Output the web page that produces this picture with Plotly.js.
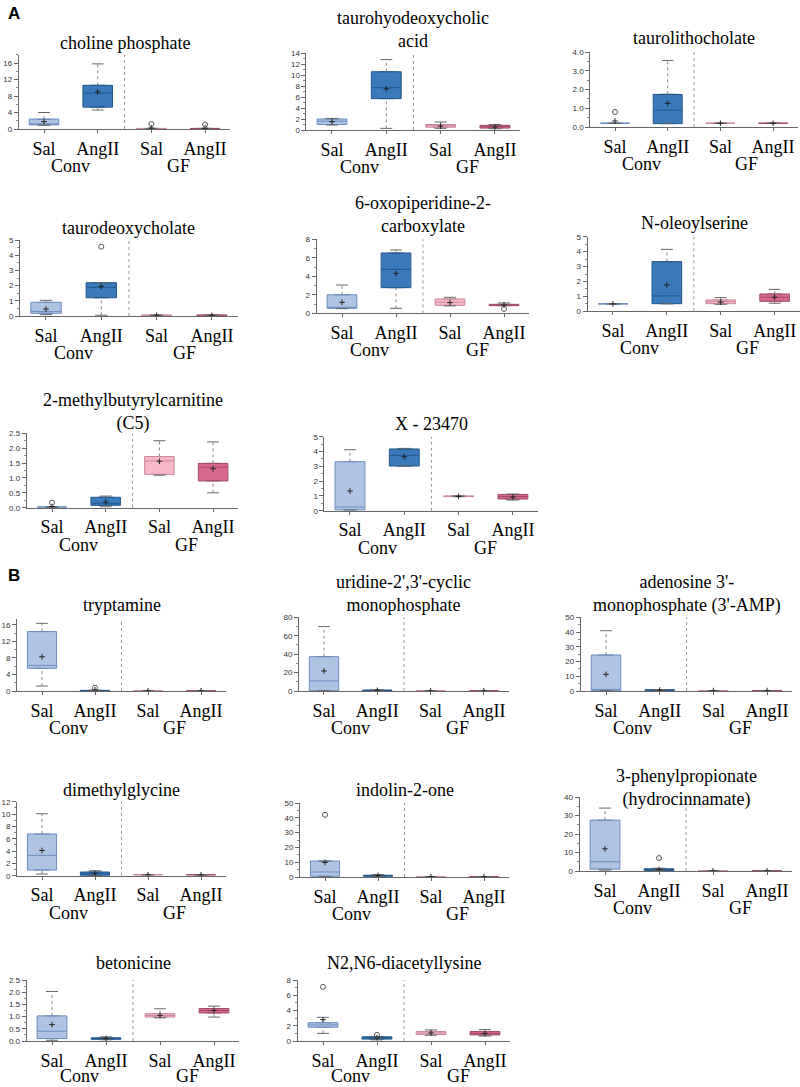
<!DOCTYPE html>
<html><head><meta charset="utf-8">
<script src="https://cdn.plot.ly/plotly-3.0.1.min.js"></script>
<style>html,body{margin:0;padding:0;background:#fff}#chart{width:800px;height:1087px}</style>
</head><body><div id="chart"></div>
<script>
// ---------- DATA ----------
const groupLabels = ['Sal', 'AngII', 'Sal', 'AngII'];
const cohortLabels = ['Conv', 'GF'];
const cohortPositions = [0.5, 2.5];
const sectionLabels = ['A', 'B'];
const titles = [
  'choline phosphate', 'taurohyodeoxycholic<br>acid', 'taurolithocholate',
  'taurodeoxycholate', '6-oxopiperidine-2-<br>carboxylate', 'N-oleoylserine',
  '2-methylbutyrylcarnitine<br>(C5)', 'X - 23470',
  'tryptamine', "uridine-2',3'-cyclic<br>monophosphate", "adenosine 3'-<br>monophosphate (3'-AMP)",
  'dimethylglycine', 'indolin-2-one', '3-phenylpropionate<br>(hydrocinnamate)',
  'betonicine', 'N2,N6-diacetyllysine'
];
const yTop   = [18, 14, 4, 5, 8, 5, 2.5, 5, 17.5, 80, 50, 12, 50, 40, 2.5, 8];
const yDtick = [4, 2, 1, 1, 2, 1, 0.5, 1, 4, 20, 10, 2, 10, 10, 0.5, 2];
const yFormat = ['', '', '.1f', '', '', '', '.1f', '', '', '', '', '', '', '', '.1f', ''];
// per panel: [Conv Sal, Conv AngII, GF Sal, GF AngII]
const q1 = [
  [1.0, 5.3, 0.05, 0.05], [1.0, 5.7, 0.5, 0.35], [0.2, 0.18, 0.2, 0.2],
  [0.18, 1.2, 0.05, 0.05], [0.54, 2.77, 0.86, 0.83], [0.5, 0.51, 0.51, 0.67],
  [0.02, 0.08, 1.12, 0.9], [0.05, 3.02, 0.95, 0.79],
  [5.5, 0.05, 0.05, 0.05], [0.4, 0.4, 0.2, 0.2], [0.2, 0.4, 0.3, 0.3],
  [0.92, 0.05, 0.15, 0.15], [0.5, 0.5, 0.3, 0.3], [1.0, 0.3, 0.1, 0.1],
  [0.1, 0.07, 0.98, 1.15], [1.8, 0.25, 0.85, 0.8]
];
const median = [
  [1.2, 8.7, 0.1, 0.1], [1.6, 7.7, 0.8, 0.65], [0.2, 0.9, 0.2, 0.2],
  [0.3, 1.89, 0.05, 0.05], [0.6, 4.76, 1.2, 0.9], [0.5, 1.03, 0.65, 0.94],
  [0.02, 0.15, 1.57, 1.36], [0.25, 3.74, 0.97, 0.95],
  [6.2, 0.1, 0.05, 0.05], [10.9, 0.7, 0.2, 0.2], [1.1, 0.6, 0.3, 0.3],
  [3.3, 0.3, 0.15, 0.15], [3.4, 0.9, 0.3, 0.3], [5.0, 0.7, 0.1, 0.1],
  [0.4, 0.1, 1.05, 1.25], [2.1, 0.4, 1.05, 1.0]
];
const q3 = [
  [2.4, 10.6, 0.15, 0.15], [2.0, 10.6, 1.0, 0.85], [0.2, 1.74, 0.2, 0.2],
  [0.9, 2.19, 0.05, 0.05], [2.0, 6.52, 1.55, 0.97], [0.5, 3.33, 0.76, 1.16],
  [0.02, 0.35, 1.72, 1.49], [3.31, 4.17, 1.0, 1.1],
  [14.4, 0.15, 0.05, 0.05], [37.3, 1.0, 0.2, 0.2], [24.4, 0.8, 0.3, 0.3],
  [6.76, 0.6, 0.15, 0.15], [10.8, 1.2, 0.3, 0.3], [27.5, 1.2, 0.1, 0.1],
  [1.03, 0.13, 1.12, 1.33], [2.4, 0.55, 1.25, 1.25]
];
const whiskerLow = [
  [0.9, 4.6, 0.05, 0.05], [0.9, 0.3, 0.3, 0.25], [0.2, 0.18, 0.2, 0.2],
  [0.09, 0.05, 0.05, 0.05], [0.5, 0.54, 0.8, 0.83], [0.5, 0.51, 0.47, 0.54],
  [0.02, 0.03, 1.09, 0.5], [0.05, 3.02, 0.95, 0.72],
  [1.2, 0.05, 0.05, 0.05], [0.4, 0.3, 0.2, 0.2], [0.2, 0.3, 0.3, 0.3],
  [0.27, 0.02, 0.15, 0.15], [0.2, 0.3, 0.3, 0.3], [0.5, 0.2, 0.1, 0.1],
  [0.03, 0.05, 0.95, 0.98], [1.0, 0.15, 0.75, 0.65]
];
const whiskerHigh = [
  [4.0, 15.8, 0.15, 0.15], [2.1, 12.8, 1.45, 1.0], [0.2, 3.55, 0.2, 0.2],
  [1.03, 2.19, 0.05, 0.05], [3.06, 6.85, 1.73, 1.12], [0.5, 4.15, 0.92, 1.47],
  [0.02, 0.39, 2.25, 2.21], [4.12, 4.21, 1.0, 1.12],
  [16.4, 0.2, 0.05, 0.05], [69.9, 1.3, 0.2, 0.2], [40.9, 0.9, 0.3, 0.3],
  [10.05, 0.81, 0.15, 0.15], [10.8, 1.6, 0.3, 0.3], [34, 1.5, 0.1, 0.1],
  [2.03, 0.17, 1.32, 1.43], [3.1, 0.6, 1.45, 1.5]
];
const mean = [
  [1.8, 9.0, 0.25, 0.2], [1.5, 7.5, 0.7, 0.55], [0.32, 1.26, 0.2, 0.2],
  [0.46, 1.95, 0.05, 0.05], [1.19, 4.32, 1.15, 0.9], [0.5, 1.76, 0.62, 0.94],
  [0.04, 0.19, 1.56, 1.31], [1.33, 3.65, 0.97, 0.92],
  [8.3, 0.3, 0.05, 0.05], [21.7, 0.7, 0.2, 0.2], [11.3, 0.6, 0.3, 0.3],
  [4.1, 0.38, 0.15, 0.15], [9.8, 0.9, 0.3, 0.3], [12, 0.8, 0.1, 0.1],
  [0.67, 0.1, 1.05, 1.25], [2.8, 0.45, 1.05, 1.0]
];
const outlierPanel = [0, 0, 2, 3, 4, 6, 8, 12, 13, 15, 15];
const outlierGroup = [2, 3, 0, 1, 3, 0, 1, 0, 1, 0, 1];
const outlierValue = [1.2, 1.1, 0.8, 4.56, 0.47, 0.17, 0.8, 42, 7, 7.1, 0.8];

// ---------- STYLE / LAYOUT GEOMETRY ----------
const W = 800, H = 1087;
const fills = ['#afc4e4', '#3b79ba', '#f9b8c7', '#d9688f'];
const edges = ['#6b8cbd', '#23578d', '#c98a9b', '#a24a6d'];
// [sal center px, spacing px, baseline px, top px, title center px, cohort label offset px]
const geom = [
  [44, 53.7, 129, 54.8, 43, 37], [332, 54.3, 130, 53, 29.5, 37], [615, 52.7, 127, 52, 38, 37],
  [46, 55.3, 316, 240, 228, 37], [342, 54, 313.3, 239.3, 214.5, 37], [613, 54, 311.3, 236.7, 223, 37],
  [52, 53.7, 507.7, 433.3, 411.5, 37], [350, 54.3, 510.7, 436.7, 424, 37],
  [42, 53, 691, 618.8, 605, 37], [324, 53.3, 691, 617.3, 593.5, 37], [606, 53.7, 691, 617.3, 594, 37],
  [42, 53, 875.7, 801.7, 790, 37], [325, 53, 877, 803, 790, 37], [605, 54, 871, 797, 787.5, 37],
  [52, 54, 1041, 980, 963, 35], [323, 54, 1041, 980, 963, 35]
];
const sectionPos = [[6, 13], [6, 575]];
const serif = 'Liberation Serif, Times New Roman, serif';
const sans = 'Liberation Sans, Arial, sans-serif';
const XL = -0.47, XR = 3.47;

const traces = [], shapes = [], annotations = [];
const layout = {
  width: W, height: H, margin: {l: 0, r: 0, t: 0, b: 0},
  paper_bgcolor: '#fff', plot_bgcolor: 'rgba(0,0,0,0)', showlegend: false,
  shapes, annotations
};

titles.forEach((title, p) => {
  const n = p + 1;
  const xa = 'x' + (n === 1 ? '' : n), ya = 'y' + (n === 1 ? '' : n);
  const xk = 'xaxis' + (n === 1 ? '' : n), yk = 'yaxis' + (n === 1 ? '' : n);
  const [sal, sp, base, top, tY, cOff] = geom[p];
  const x0 = sal + XL * sp, x1 = sal + XR * sp;
  layout[xk] = {
    domain: [x0 / W, x1 / W], anchor: ya, range: [XL, XR],
    tickvals: [0, 1, 2, 3], ticktext: groupLabels,
    tickfont: {family: serif, size: 18, color: '#000'},
    ticks: 'outside', ticklen: 3, tickcolor: '#666',
    showline: true, linecolor: '#666', linewidth: 1,
    showgrid: false, zeroline: false, fixedrange: true
  };
  const yax = {
    domain: [1 - base / H, 1 - top / H], anchor: xa, range: [0, yTop[p]],
    tick0: 0, dtick: yDtick[p],
    tickfont: {family: sans, size: 8, color: '#333'},
    ticks: 'outside', ticklen: 4, tickcolor: '#666',
    showline: true, linecolor: '#666', linewidth: 1,
    showgrid: false, zeroline: false, fixedrange: true,
    minor: {dtick: yDtick[p] / 2, tick0: 0, ticks: 'outside', ticklen: 2, tickcolor: '#888', showgrid: false}
  };
  if (yFormat[p]) yax.tickformat = yFormat[p];
  layout[yk] = yax;

  for (let g = 0; g < 4; g++) {
    traces.push({
      type: 'box', x: [g], q1: [q1[p][g]], median: [median[p][g]], q3: [q3[p][g]],
      lowerfence: [q1[p][g]], upperfence: [q3[p][g]],
      width: 0.55, fillcolor: fills[g], line: {color: edges[g], width: 1},
      boxpoints: false, xaxis: xa, yaxis: ya, hoverinfo: 'skip'
    });
  }
  const wx = [], wy = [], cx = [], cy = [];
  for (let g = 0; g < 4; g++) {
    wx.push(g, g, null, g, g, null);
    wy.push(q3[p][g], whiskerHigh[p][g], null, whiskerLow[p][g], q1[p][g], null);
    cx.push(g - 0.11, g + 0.11, null, g - 0.11, g + 0.11, null);
    cy.push(whiskerHigh[p][g], whiskerHigh[p][g], null, whiskerLow[p][g], whiskerLow[p][g], null);
  }
  traces.push({type: 'scatter', mode: 'lines', x: wx, y: wy, xaxis: xa, yaxis: ya,
    line: {color: '#888', width: 1, dash: 'dot'}, hoverinfo: 'skip', connectgaps: false});
  traces.push({type: 'scatter', mode: 'lines', x: cx, y: cy, xaxis: xa, yaxis: ya,
    line: {color: '#666', width: 1}, hoverinfo: 'skip', connectgaps: false});
  traces.push({type: 'scatter', mode: 'markers', x: [0, 1, 2, 3], y: mean[p], xaxis: xa, yaxis: ya,
    marker: {symbol: 'cross-thin', size: 4, color: '#222', line: {color: '#222', width: 1}}, hoverinfo: 'skip'});
  const ox = [], oy = [];
  outlierPanel.forEach((op, k) => { if (op === p) { ox.push(outlierGroup[k]); oy.push(outlierValue[k]); } });
  if (ox.length) traces.push({type: 'scatter', mode: 'markers', x: ox, y: oy, xaxis: xa, yaxis: ya,
    marker: {symbol: 'circle-open', size: 5, color: '#555', line: {color: '#555', width: 1}}, hoverinfo: 'skip'});

  shapes.push({type: 'line', xref: xa, yref: ya + ' domain', x0: 1.5, x1: 1.5, y0: 0, y1: 1,
    line: {color: '#999', width: 1, dash: 'dot'}});
  annotations.push({text: title, xref: 'paper', yref: 'paper', x: (x0 + x1) / 2 / W, y: 1 - tY / H,
    xanchor: 'center', yanchor: 'middle', showarrow: false, align: 'center',
    font: {family: serif, size: 18, color: '#000'}});
  cohortLabels.forEach((c, k) => {
    annotations.push({text: c, xref: xa, yref: 'paper', x: cohortPositions[k], y: 1 - (base + cOff) / H,
      xanchor: 'center', yanchor: 'middle', showarrow: false,
      font: {family: serif, size: 18, color: '#000'}});
  });
});

sectionLabels.forEach((s, k) => {
  annotations.push({text: '<b>' + s + '</b>', xref: 'paper', yref: 'paper',
    x: sectionPos[k][0] / W, y: 1 - sectionPos[k][1] / H, xanchor: 'left', yanchor: 'middle',
    showarrow: false, font: {family: sans, size: 17, color: '#000'}});
});

Plotly.newPlot('chart', traces, layout, {staticPlot: true, displayModeBar: false});
</script>
</body></html>
